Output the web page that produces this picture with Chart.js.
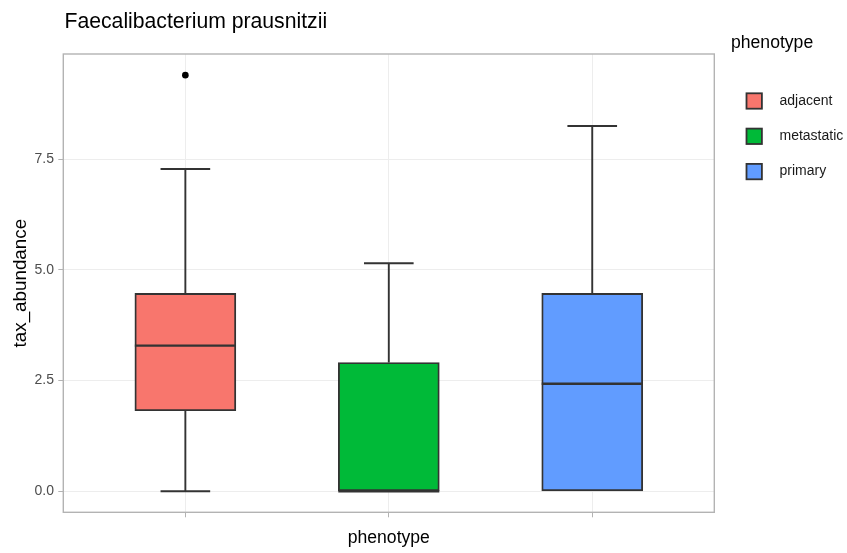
<!DOCTYPE html>
<html>
<head>
<meta charset="utf-8">
<script src="https://cdn.jsdelivr.net/npm/chart.js@4"></script>
<style>
  body { margin: 0; background: #fff; }
  #wrap { width: 847px; height: 553px; position: relative; }
</style>
</head>
<body>
<div id="wrap"><canvas id="box-chart"></canvas></div>
<script>
  // values
  const categories = ['adjacent', 'metastatic', 'primary'];
  const lowerWhisker = [0, 0, 0];
  const q1 = [1.82, 0, 0];
  const median = [3.29, 0, 2.43];
  const q3 = [4.47, 2.91, 4.47];
  const upperWhisker = [7.28, 5.15, 8.25];
  const outlierGroup = ['adjacent'];
  const outlierValue = [9.40];
  const yTicks = [0, 2.5, 5, 7.5];

  const fills = ['#F8766D', '#00BA38', '#619CFF'];
  const lineColor = '#333333';
  const font = 'Liberation Sans, Arial, sans-serif';

  // whiskers, caps, medians, panel border, title and legend
  const boxExtras = {
    id: 'boxExtras',
    beforeDatasetsDraw(chart) {
      const ctx = chart.ctx;
      const x = chart.scales.x, y = chart.scales.y;
      ctx.save();
      ctx.strokeStyle = lineColor;
      ctx.lineWidth = 1.9;
      categories.forEach(function(c, i) {
        const cx = x.getPixelForValue(i + 1);
        const capL = x.getPixelForValue(i + 1 - 0.122);
        const capR = x.getPixelForValue(i + 1 + 0.122);
        ctx.beginPath();
        ctx.moveTo(cx, y.getPixelForValue(q3[i]));
        ctx.lineTo(cx, y.getPixelForValue(upperWhisker[i]));
        ctx.moveTo(capL, y.getPixelForValue(upperWhisker[i]));
        ctx.lineTo(capR, y.getPixelForValue(upperWhisker[i]));
        if (q1[i] > lowerWhisker[i]) {
          ctx.moveTo(cx, y.getPixelForValue(q1[i]));
          ctx.lineTo(cx, y.getPixelForValue(lowerWhisker[i]));
          ctx.moveTo(capL, y.getPixelForValue(lowerWhisker[i]));
          ctx.lineTo(capR, y.getPixelForValue(lowerWhisker[i]));
        }
        ctx.stroke();
      });
      ctx.restore();
    },
    afterDatasetsDraw(chart) {
      const ctx = chart.ctx;
      const x = chart.scales.x, y = chart.scales.y;
      const bar = chart.getDatasetMeta(0).data;
      ctx.save();
      ctx.strokeStyle = lineColor;
      ctx.lineWidth = 2.3;
      categories.forEach(function(c, i) {
        const half = bar[i].width / 2;
        const cx = x.getPixelForValue(i + 1);
        const my = y.getPixelForValue(median[i]);
        ctx.beginPath();
        ctx.moveTo(cx - half, my);
        ctx.lineTo(cx + half, my);
        ctx.stroke();
      });
      // panel border
      const a = chart.chartArea;
      ctx.strokeStyle = '#b3b3b3';
      ctx.lineWidth = 1.4;
      ctx.strokeRect(a.left, a.top, a.right - a.left, a.bottom - a.top);
      ctx.restore();
    },
    afterDraw(chart) {
      const ctx = chart.ctx;
      ctx.save();
      ctx.fillStyle = '#000';
      ctx.textBaseline = 'alphabetic';
      ctx.textAlign = 'left';
      ctx.font = '21.2px ' + font;
      ctx.fillText('Faecalibacterium prausnitzii', 64.5, 28);

      // legend
      ctx.textBaseline = 'middle';
      ctx.font = '17.6px ' + font;
      ctx.fillText('phenotype', 731, 43);
      ctx.font = '14px ' + font;
      categories.forEach(function(c, i) {
        const ky = 101 + i * 35.3;
        ctx.fillStyle = fills[i];
        ctx.fillRect(746.5, ky - 7.7, 15.4, 15.4);
        ctx.strokeStyle = lineColor;
        ctx.lineWidth = 1.8;
        ctx.strokeRect(746.5, ky - 7.7, 15.4, 15.4);
        ctx.fillStyle = '#1a1a1a';
        ctx.fillText(c, 779.5, ky);
      });
      ctx.restore();
    }
  };

  const ctx = document.getElementById('box-chart');

  const boxChart = new Chart(ctx, {
    type: 'bar',
    data: {
      datasets: [{
        type: 'bar',
        label: 'IQR',
        data: categories.map(function(c, i) { return { x: i + 1, y: [q1[i], q3[i]] }; }),
        backgroundColor: fills,
        borderColor: lineColor,
        borderWidth: 1.9,
        borderSkipped: false,
        barThickness: 101,
        order: 2
      }, {
        type: 'scatter',
        label: 'outliers',
        data: outlierGroup.map(function(g, i) { return { x: categories.indexOf(g) + 1, y: outlierValue[i] }; }),
        backgroundColor: '#000',
        borderWidth: 0,
        pointRadius: 3.3,
        order: 1
      }]
    },
    options: {
      responsive: true,
      maintainAspectRatio: false,
      animation: false,
      layout: { padding: { top: 54, right: 132.7, bottom: 0, left: 0 } },
      plugins: {
        legend: { display: false },
        tooltip: { enabled: false }
      },
      scales: {
        x: {
          type: 'linear',
          min: 0.4,
          max: 3.6,
          offset: false,
          afterBuildTicks: function(scale) {
            scale.ticks = categories.map(function(c, i) { return { value: i + 1 }; });
          },
          afterFit: function(scale) { scale.height = 40.7; },
          ticks: { callback: function() { return ''; }, padding: 0 },
          grid: { offset: false, color: '#ededed', lineWidth: 1, tickColor: '#b3b3b3', tickLength: 5 },
          border: { display: false },
          title: {
            display: true,
            text: 'phenotype',
            color: '#000',
            font: { family: font, size: 17.6 },
            padding: { top: 0, bottom: 4.4 }
          }
        },
        y: {
          type: 'linear',
          min: -0.474,
          max: 9.878,
          afterBuildTicks: function(scale) {
            scale.ticks = yTicks.map(function(v) { return { value: v }; });
          },
          afterFit: function(scale) { scale.width = 63.3; },
          ticks: {
            callback: function(v) { return v.toFixed(1); },
            color: '#4d4d4d',
            font: { family: font, size: 14 },
            padding: 4.3
          },
          grid: { color: '#ededed', lineWidth: 1, tickColor: '#b3b3b3', tickLength: 5 },
          border: { display: false },
          title: {
            display: true,
            text: 'tax_abundance',
            color: '#000',
            font: { family: font, size: 18.8 },
            padding: { top: 10, bottom: 0 }
          }
        }
      }
    },
    plugins: [boxExtras]
  });
</script>
</body>
</html>
